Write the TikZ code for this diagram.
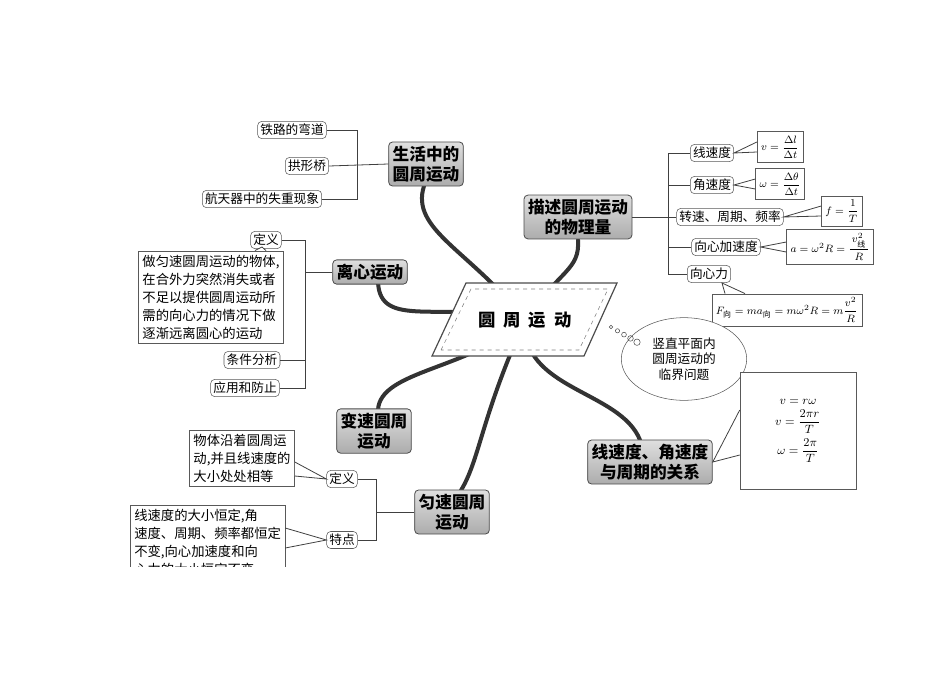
\documentclass[tikz,border=0pt]{standalone}
\usepackage{amsmath}
\usepackage{fontspec}
\setmainfont{Noto Sans CJK SC}
\usetikzlibrary{shapes.geometric,calc}
\begin{document}
\begin{tikzpicture}[x=0.75pt,y=-0.75pt,
 mainbox/.style={draw=gray!60!black,rounded corners=3pt,top color=gray!25,bottom color=gray!65,font=\bfseries\fontsize{12.5}{15}\selectfont,align=center,inner sep=3pt,line width=0.6pt},
 leaf/.style={draw=gray!70!black,rounded corners=3pt,fill=white,font=\fontsize{9.5}{11}\selectfont,inner sep=2pt},
 txtbox/.style={draw=gray!70!black,fill=white,font=\fontsize{10}{13.5}\selectfont,align=left,inner sep=3pt},
 fbox/.style={draw=gray!70!black,fill=white,font=\fontsize{8.5}{10}\selectfont,inner sep=3pt},
 br/.style={draw=gray!50!black,line width=0.6pt},
 branch/.style={draw=gray!40!black,line width=3pt,line cap=round}]
\useasboundingbox (0,0) rectangle (950,672);
% branches
\coordinate (c) at (525,320);
\draw[branch] (c) .. controls (470,250) and (410,230) .. (424,186);
\draw[branch] (c) .. controls (560,270) and (580,270) .. (578,240);
\draw[branch] (c) .. controls (440,300) and (380,330) .. (378,282);
\draw[branch] (c) .. controls (470,370) and (380,370) .. (378,410);
\draw[branch] (c) .. controls (480,420) and (480,460) .. (460,492);
\draw[branch] (c) .. controls (520,390) and (620,390) .. (640,440);
% center
\draw[gray!60!black,fill=white,line width=0.9pt] (432,356) -- (466,283) -- (617,283) -- (584,356) -- cycle;
\draw[gray,dashed] (441,350) -- (471,289) -- (608,289) -- (579,350) -- cycle;
\node[font=\bfseries\fontsize{13}{15}\selectfont] (center) at (525,320) {圆\ \ 周\ \ 运\ \ 动};
% main nodes
\node[mainbox] (life) at (426,164) {生活中的\\圆周运动};
\node[mainbox] (desc) at (578,217) {描述圆周运动\\的物理量};
\node[mainbox] (centri) at (370,272) {离心运动};
\node[mainbox] (var) at (374,431) {变速圆周\\运动};
\node[mainbox] (uni) at (452,512) {匀速圆周\\运动};
\node[mainbox] (rel) at (650,462) {线速度、角速度\\与周期的关系};
% life leaves
\node[leaf] (l1) at (292,130) {铁路的弯道};
\node[leaf] (l2) at (307,166) {拱形桥};
\node[leaf] (l3) at (262,199) {航天器中的失重现象};
\draw[br] (l1.east) -- (357,130) -- (357,199) -- (l3.east);
\draw[br] (l2.east) -- (life.west);
% desc leaves
\node[leaf] (d1) at (712,153) {线速度};
\node[leaf] (d2) at (712,185) {角速度};
\node[leaf] (d3) at (730,217) {转速、周期、频率};
\node[leaf] (d4) at (726,247) {向心加速度};
\node[leaf] (d5) at (709,274) {向心力};
\draw[br] (d1.west) -- (668,153) -- (668,274) -- (d5.west);
\draw[br] (desc.east) -- (d3.west);
\draw[br] (d2.west) -- (668,185);
\draw[br] (d4.west) -- (668,247);
\node[fbox] (f1) at (780,147) {$v=\dfrac{\Delta l}{\Delta t}$};
\node[fbox] (f2) at (780,184) {$\omega=\dfrac{\Delta \theta}{\Delta t}$};
\node[fbox] (f3) at (842,211) {$f=\dfrac{1}{T}$};
\node[fbox] (f4) at (830,247) {$a=\omega^2R=\dfrac{\,v_{\text{线}}^2\,}{R}$};
\node[fbox] (f5) at (787,310) {$F_{\text{向}}=ma_{\text{向}}=m\omega^2R=m\dfrac{v^2}{R}$};
\draw[br] (f1.west|-0,142) -- (d1.east) -- (f1.west|-0,152);
\draw[br] (f2.west|-0,179) -- (d2.east) -- (f2.west|-0,189);
\draw[br] (f3.west|-0,206) -- (d3.east) -- (f3.west|-0,216);
\draw[br] (f4.west|-0,242) -- (d4.east) -- (f4.west|-0,252);
\draw[br,fill=white] (f5.north-|725,0) -- (722,283) -- (f5.north-|745,0);
% centrifugal
\node[leaf] (c1) at (266,240) {定义};
\node[txtbox] (ct) at (211,297) {做匀速圆周运动的物体,\\在合外力突然消失或者\\不足以提供圆周运动所\\需的向心力的情况下做\\逐渐远离圆心的运动};
\node[leaf] (c2) at (252,360) {条件分析};
\node[leaf] (c3) at (245,388) {应用和防止};
\draw[br] (c1.east) -- (305,240) -- (305,388) -- (c3.east);
\draw[br] (centri.west) -- (305,272);
\draw[br] (c2.east) -- (305,360);
\draw[br,fill=white] (ct.north-|255,0) -- (262,247) -- (ct.north-|266,0);
% critical
\node[ellipse,draw=gray!70!black,fill=white,minimum width=94,minimum height=62,align=center,inner sep=0pt,font=\fontsize{9.5}{11.5}\selectfont] (crit) at (684,359) {竖直平面内\\圆周运动的\\临界问题};
\foreach \i/\r in {0/1.8,1/2.1,2/2.4,3/2.8,4/3.2}
  \draw[gray!60!black] ($(611,327)+(\i*6.5,\i*3.8)$) circle (\r);
% uniform
\node[leaf] (u1) at (342,479) {定义};
\node[leaf] (u2) at (342,540) {特点};
\draw[br] (u1.east) -- (376,479) -- (376,540) -- (u2.east);
\draw[br] (uni.west) -- (376,512);
\node[txtbox] (ut1) at (242,458) {物体沿着圆周运\\动,并且线速度的\\大小处处相等\phantom{的}};
\draw[br,fill=white] (ut1.east|-0,462) -- (u1.west) -- (ut1.east|-0,476);
\begin{scope}
\clip (100,495) rectangle (330,566);
\node[txtbox,anchor=north west] (ut2) at (130,505) {线速度的大小恒定,角\\速度、周期、频率都恒定\\不变,向心加速度和向\\心力的大小恒定不变};
\end{scope}
\draw[br] (ut2.east|-0,528) -- (u2.west) -- (ut2.east|-0,548);
% relation
\node[fbox,align=center,minimum width=87,minimum height=88,font=\fontsize{9}{10}\selectfont] (rf) at (798,431) {$v=r\omega$\\[3pt] $v=\dfrac{2\pi r}{T}$\\[3pt] $\omega=\dfrac{2\pi}{T}$};
\draw[br] (rf.west|-0,410) -- (rel.east) -- (rf.west|-0,455);
\end{tikzpicture}
\end{document}
